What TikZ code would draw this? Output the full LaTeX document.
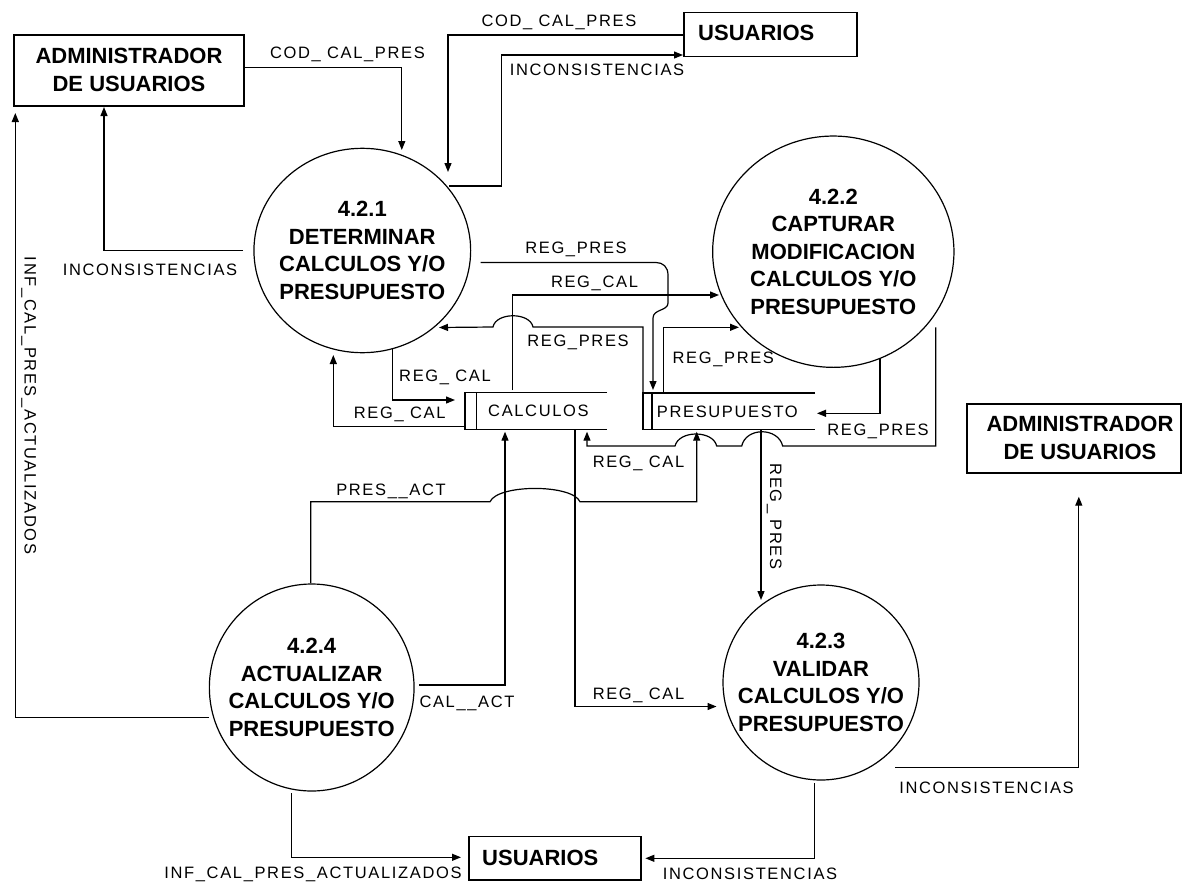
\documentclass[tikz,border=0pt]{standalone}
\usepackage{fontspec}
\setmainfont{Liberation Sans}
\newfontfamily\labfam[LetterSpace=10]{Liberation Sans}
\newcommand\lblfont{\labfam\fontsize{16.5}{19}\selectfont}
\newcommand\procfont{\fontsize{22}{27.5}\selectfont\bfseries}
\usetikzlibrary{arrows.meta,shapes.geometric}
\tikzset{
  ln/.style={line width=1.2pt, line join=miter},
  flow/.style={ln, -{Triangle[length=9pt,width=7pt]}},
  lab/.style={font=\lblfont, inner sep=0pt, text height=11.8pt, text depth=0pt},
  ptext/.style={font=\procfont, align=center, inner sep=0pt},
  proc/.style={draw, line width=1.2pt, ellipse, inner sep=0pt},
  ent/.style={draw, line width=1.2pt, rectangle, inner sep=0pt},
}
\begin{document}
\begin{tikzpicture}[x=1pt,y=-1pt]
\useasboundingbox[fill=white] (0,0) rectangle (1183,886);

% external entities
\node[ent, minimum width=230pt, minimum height=71pt] (admTL) at (129,70.5) {};
\node[ptext] at (129,70) {ADMINISTRADOR\\DE USUARIOS};
\node[ent, minimum width=173pt, minimum height=44.4pt] (usrTop) at (770.5,34.5) {};
\node[ptext, anchor=west] at (698,33.3) {USUARIOS};
\node[ent, minimum width=214pt, minimum height=69pt] (admR) at (1074,438.5) {};
\node[ptext] at (1080,437.8) {ADMINISTRADOR\\DE USUARIOS};
\node[ent, minimum width=172pt, minimum height=43.3pt] (usrBot) at (555,858.4) {};
\node[ptext, anchor=west] at (482,858) {USUARIOS};

% processes
\node[proc, minimum width=216.7pt, minimum height=204.4pt] (p421) at (362.3,250.5) {};
\node[ptext] at (p421) {4.2.1\\DETERMINAR\\CALCULOS Y/O\\PRESUPUESTO};
\node[proc, minimum width=241.3pt, minimum height=231.3pt] (p422) at (833.3,251.7) {};
\node[ptext] at (p422) {4.2.2\\CAPTURAR\\MODIFICACION\\CALCULOS Y/O\\PRESUPUESTO};
\node[proc, minimum width=196pt, minimum height=195pt] (p423) at (821,682.5) {};
\node[ptext] at (p423) {4.2.3\\VALIDAR\\CALCULOS Y/O\\PRESUPUESTO};
\node[proc, minimum width=204.7pt, minimum height=207pt] (p424) at (311.7,687.5) {};
\node[ptext] at (p424) {4.2.4\\ACTUALIZAR\\CALCULOS Y/O\\PRESUPUESTO};

% data stores
\draw[ln] (607,392.7) -- (465,392.7) -- (465,429.3) -- (607,429.3);
\draw[ln] (476.7,392.7) -- (476.7,429.3);
\node[lab, anchor=west] (sCal) at (488,411) {CALCULOS};
\draw[ln] (815,393) -- (643,393) -- (643,429.3) -- (815,429.3);
\draw[ln] (652,393) -- (652,429.3);
\node[lab, anchor=west] (sPres) at (656.7,411.7) {PRESUPUESTO};

% flows
\draw[flow] (admTL.east |- 0,67.7) -| (401.8,150);
\node[lab] at (347.5,52.3) {COD\_ CAL\_PRES};

\draw[flow] (usrTop.west) ++(0,0.5) -| (448,172);
\node[lab] at (559,20.7) {COD\_ CAL\_PRES};

\draw[flow] (449,186) -| (501.3,55) -- (683,55);
\node[lab] at (597,70) {INCONSISTENCIAS};

\draw[flow] (243,250.7) -| (104,107);
\node[lab] at (150,270) {INCONSISTENCIAS};

\draw[flow] (209,717.3) -| (15.3,113);
\node[lab, rotate=-90] at (30.6,405.5) {INF\_CAL\_PRES\_ACTUALIZADOS};

\draw[flow] (480.7,262.5) -- (656,262.5) .. controls (663,262.5) and (668,267) .. (668,275) -- (668,303) .. controls (668,311) and (653,309) .. (653,318) -- (653,390);
\node[lab] at (576,248) {REG\_PRES};

\draw[flow] (512.5,390) |- (719,295);
\node[lab] at (594.5,282) {REG\_CAL};

\draw[flow] (643,429.3) -- (643,327) -- (533,327) .. controls (530,312) and (496,312) .. (493,327) -- (439,327.5);
\node[lab] at (578,340.7) {REG\_PRES};

\draw[flow] (663.3,393) |- (739,327.3);
\node[lab] at (723.3,357.7) {REG\_PRES};

\draw[flow] (880,358) |- (817,413.3);
\node[lab] at (878,429.3) {REG\_PRES};

\draw[flow] (935.7,327.3) -- (935.7,446) -- (782.7,446) .. controls (778,427) and (746,427) .. (741.7,446) -- (716.7,446) .. controls (713,430) and (679,430) .. (675,446) -- (587,446) -- (587,431.7);
\node[lab] at (638.5,462) {REG\_ CAL};

\draw[flow] (310.7,583) -- (310.7,501.7) -- (490,501.7) .. controls (498,484) and (572,484) .. (580,501.7) -- (696.7,501.7) -- (696.7,431.7);
\node[lab] at (391,489.3) {PRES\_\_ACT};

\draw[flow] (419,685) -| (505,431.7);
\node[lab] at (467,701.7) {CAL\_\_ACT};

\draw[flow] (575,429.3) |- (716.5,706.5);
\node[lab] at (638.5,693.3) {REG\_ CAL};

\draw[flow] (761,429.3) -- (761,600);
\node[lab, rotate=-90] at (776,516.5) {REG\_ PRES};

\draw[flow] (895.4,767.7) -| (1078.8,496.7);
\node[lab] at (986.5,787.7) {INCONSISTENCIAS};

\draw[flow] (814.6,783) |- (645.4,858.3);
\node[lab] at (750,874) {INCONSISTENCIAS};

\draw[flow] (291.6,793) |- (461,857.3);
\node[lab] at (313,872.7) {INF\_CAL\_PRES\_ACTUALIZADOS};

\draw[flow] (392.7,349) |- (455,400);
\node[lab] at (445,376) {REG\_ CAL};

\draw[flow] (465,426.7) -| (333.3,355);
\node[lab] at (399.7,413) {REG\_ CAL};
\end{tikzpicture}
\end{document}
